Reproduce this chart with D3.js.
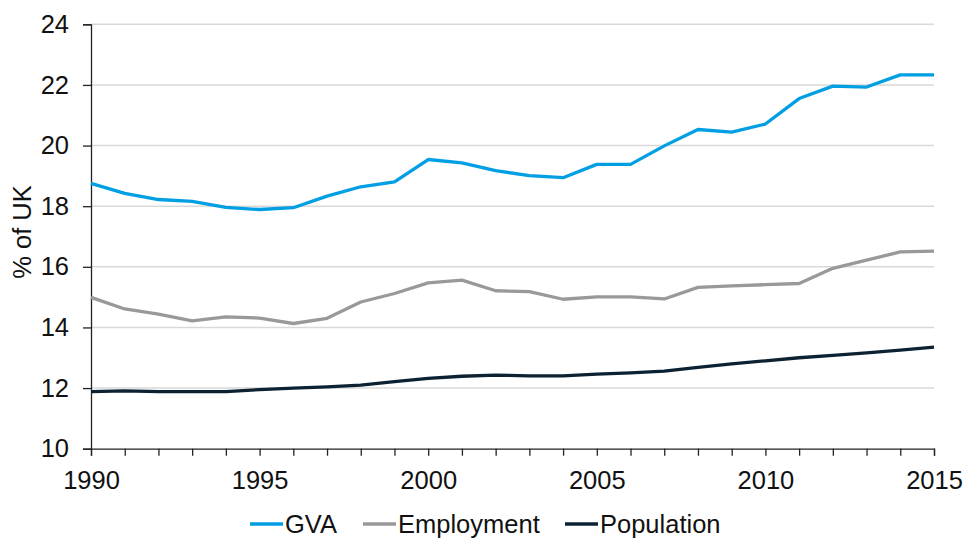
<!DOCTYPE html>
<html><head><meta charset="utf-8">
<script src="https://cdn.jsdelivr.net/npm/d3@7"></script>
<style>body{margin:0;background:#fff}svg{display:block;font-family:"Liberation Sans",Arial,sans-serif}</style>
</head><body><svg id="c" width="964" height="538"></svg>
<script>
const years = d3.range(1990, 2016);
const gva = [18.75,18.42,18.22,18.16,17.96,17.89,17.95,18.33,18.64,18.80,19.54,19.43,19.17,19.01,18.94,19.38,19.38,19.99,20.53,20.44,20.71,21.55,21.96,21.93,22.33,22.33];
const employment = [14.99,14.61,14.44,14.22,14.35,14.31,14.13,14.30,14.84,15.12,15.47,15.56,15.21,15.18,14.93,15.01,15.01,14.94,15.32,15.37,15.41,15.45,15.95,16.22,16.49,16.52];
const population = [11.88,11.91,11.88,11.88,11.88,11.95,12.00,12.04,12.10,12.21,12.32,12.39,12.43,12.40,12.40,12.46,12.50,12.56,12.68,12.80,12.90,13.00,13.08,13.16,13.25,13.35];
const yTicks = [10,12,14,16,18,20,22,24];
const xLabels = [1990,1995,2000,2005,2010,2015];
const seriesNames = ["GVA","Employment","Population"];
const colors = ["#009fe3","#999999","#0c2233"];
const FS = 25.5;

const svg = d3.select("#c");
const x = d3.scaleLinear().domain([1990,2015]).range([91,934]);
const y = d3.scaleLinear().domain([10,24]).range([448.7,24.3]);

// gridlines
svg.append("g").selectAll("line").data(yTicks.filter(d=>d>10)).join("line")
  .attr("x1",91).attr("x2",934).attr("y1",d=>y(d)).attr("y2",d=>y(d))
  .attr("stroke","#d9d9d9").attr("stroke-width",1.5);

// y axis
const ya = svg.append("g").attr("transform","translate(91,0)")
  .call(d3.axisLeft(y).tickValues(yTicks).tickSize(8).tickPadding(14).tickFormat(d3.format("d")));
ya.select(".domain").attr("stroke","#222").attr("stroke-width",1.3);
ya.selectAll(".tick line").attr("stroke","#222").attr("stroke-width",1.3);
ya.selectAll("text").attr("font-size",FS).attr("fill","#111").attr("font-family","Liberation Sans, Arial, sans-serif");

// x axis
const xa = svg.append("g").attr("transform","translate(0,448.7)")
  .call(d3.axisBottom(x).tickValues(years).tickSize(7).tickPadding(15)
    .tickFormat(d=>xLabels.includes(d)?String(d):""));
xa.select(".domain").attr("stroke","#222").attr("stroke-width",1.3);
xa.selectAll(".tick line").attr("stroke","#222").attr("stroke-width",1.3);
xa.selectAll("text").attr("font-size",FS).attr("fill","#111").attr("font-family","Liberation Sans, Arial, sans-serif");

// y title
svg.append("text").attr("transform","translate(31,232) rotate(-90)")
  .attr("text-anchor","middle").attr("font-size",FS).attr("fill","#111").text("% of UK");

// lines
const line = d3.line().x((d,i)=>x(years[i])).y(d=>y(d));
[gva, employment, population].forEach((s,k)=>{
  svg.append("path").datum(s).attr("d",line).attr("fill","none")
    .attr("stroke",colors[k]).attr("stroke-width",3.3).attr("stroke-linejoin","round");
});

// legend
const legX = [250,363,565];
const lg = svg.append("g");
seriesNames.forEach((n,k)=>{
  lg.append("line").attr("x1",legX[k]).attr("x2",legX[k]+33).attr("y1",524).attr("y2",524)
    .attr("stroke",colors[k]).attr("stroke-width",3.3);
  lg.append("text").attr("x",legX[k]+35).attr("y",533).attr("font-size",FS).attr("fill","#111").text(n);
});
</script></body></html>
